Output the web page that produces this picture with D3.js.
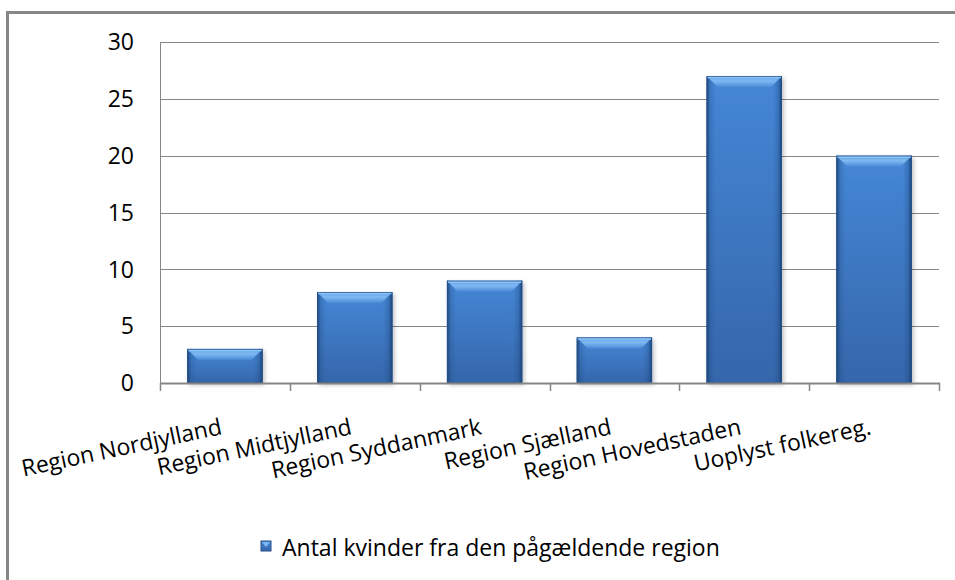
<!DOCTYPE html>
<html>
<head>
<meta charset="utf-8">
<script src="https://cdn.jsdelivr.net/npm/d3@7"></script>
<style>
  html, body { margin: 0; padding: 0; background: #fff; }
  svg { display: block; }
  text { font-family: "Open Sans", "Noto Sans", sans-serif; fill: #000; }
</style>
</head>
<body>
<svg id="chart" width="955" height="580"></svg>
<script>
const categories = ["Region Nordjylland", "Region Midtjylland", "Region Syddanmark", "Region Sjælland", "Region Hovedstaden", "Uoplyst folkereg."];
const values = [3, 8, 9, 4, 27, 20];
const yTicks = [0, 5, 10, 15, 20, 25, 30];
const seriesName = "Antal kvinder fra den pågældende region";

const svg = d3.select("#chart");
const W = 955, H = 580;
const plot = { left: 160, right: 939, top: 42, bottom: 383 };

const defs = svg.append("defs");
const body = defs.append("linearGradient").attr("id", "barBody").attr("x1", 0).attr("y1", 0).attr("x2", 0).attr("y2", 1);
body.append("stop").attr("offset", "0%").attr("stop-color", "#4587d6");
body.append("stop").attr("offset", "100%").attr("stop-color", "#3566ab");
const side = defs.append("linearGradient").attr("id", "barSide").attr("x1", 0).attr("y1", 0).attr("x2", 1).attr("y2", 0);
side.append("stop").attr("offset", "0%").attr("stop-color", "#173d6e").attr("stop-opacity", 0.9);
side.append("stop").attr("offset", "5%").attr("stop-color", "#1f4a80").attr("stop-opacity", 0.25);
side.append("stop").attr("offset", "12%").attr("stop-color", "#1f4a80").attr("stop-opacity", 0);
side.append("stop").attr("offset", "88%").attr("stop-color", "#1f4a80").attr("stop-opacity", 0);
side.append("stop").attr("offset", "95%").attr("stop-color", "#1f4a80").attr("stop-opacity", 0.3);
side.append("stop").attr("offset", "100%").attr("stop-color", "#173d6e").attr("stop-opacity", 0.95);
const bevel = defs.append("linearGradient").attr("id", "barTop").attr("x1", 0).attr("y1", 0).attr("x2", 0).attr("y2", 1);
bevel.append("stop").attr("offset", "0%").attr("stop-color", "#5d9fe6");
bevel.append("stop").attr("offset", "45%").attr("stop-color", "#7fb9f2");
bevel.append("stop").attr("offset", "100%").attr("stop-color", "#4a8ad6");
const shadow = defs.append("filter").attr("id", "shadow").attr("x", "-20%").attr("y", "-20%").attr("width", "150%").attr("height", "150%");
shadow.append("feDropShadow").attr("dx", 2).attr("dy", 2).attr("stdDeviation", 2).attr("flood-color", "#000").attr("flood-opacity", 0.25);

// outer frame (cut at right/bottom)
svg.append("path").attr("d", `M7.5,${H + 5} V12.5 H${W + 5}`)
  .attr("fill", "none").attr("stroke", "#868686").attr("stroke-width", 3);

const x = d3.scaleBand().domain(categories).range([plot.left, plot.right]).paddingInner(0.42).paddingOuter(0.21);
const y = d3.scaleLinear().domain([0, 30]).range([plot.bottom, plot.top]);

// gridlines
svg.append("g").selectAll("line").data(yTicks.filter(t => t > 0)).join("line")
  .attr("x1", plot.left).attr("x2", plot.right)
  .attr("y1", d => Math.round(y(d)) + 0.5).attr("y2", d => Math.round(y(d)) + 0.5)
  .attr("stroke", "#868686").attr("stroke-width", 1);

// y axis
const yAxis = svg.append("g").attr("transform", `translate(${plot.left},0)`)
  .call(d3.axisLeft(y).tickValues(yTicks).tickSize(0).tickPadding(26));
yAxis.select(".domain").attr("stroke", "#868686").attr("d", `M0.5,${plot.top}V${plot.bottom}`);
yAxis.selectAll("text").style("font-size", "23px").attr("fill", "#000").attr("dy", "0.34em");

// bars
const bw = x.bandwidth();
const barG = svg.append("g").selectAll("g").data(values).join("g")
  .attr("transform", (d, i) => `translate(${x(categories[i])},0)`);
barG.append("rect").attr("x", 0).attr("y", d => y(d)).attr("width", bw).attr("height", d => y(0) - y(d))
  .attr("fill", "url(#barBody)").attr("filter", "url(#shadow)");
barG.append("rect").attr("x", 0).attr("y", d => y(d)).attr("width", bw).attr("height", d => y(0) - y(d))
  .attr("fill", "url(#barSide)");
// top bevel
barG.append("path").attr("d", d => {
  const t = y(d), h = 11;
  return `M0,${t} H${bw} L${bw - h},${t + h} H${h} Z`;
}).attr("fill", "url(#barTop)");
barG.append("rect").attr("x", 0.5).attr("y", d => y(d) + 0.5).attr("width", bw - 1).attr("height", d => y(0) - y(d) - 1)
  .attr("fill", "none").attr("stroke", "#244f88").attr("stroke-width", 1);
barG.append("line").attr("x1", 1).attr("x2", bw - 1).attr("y1", d => y(d) + 1.5).attr("y2", d => y(d) + 1.5)
  .attr("stroke", "#8cc3f5").attr("stroke-width", 1.5);

// x axis
const xAxisY = plot.bottom + 0.5;
svg.append("line").attr("x1", plot.left).attr("x2", plot.right + 1).attr("y1", xAxisY).attr("y2", xAxisY)
  .attr("stroke", "#868686").attr("stroke-width", 2);
const boundaries = categories.map(c => x(c) - x.step() * x.paddingInner() / 2 - (categories.indexOf(c) === 0 ? x.step() * (x.paddingOuter() - x.paddingInner() / 2) : 0));
boundaries.push(plot.right);
svg.append("g").selectAll("line").data(boundaries).join("line")
  .attr("x1", d => Math.round(d) + 0.5).attr("x2", d => Math.round(d) + 0.5)
  .attr("y1", plot.bottom).attr("y2", plot.bottom + 8)
  .attr("stroke", "#868686").attr("stroke-width", 1.5);

// x labels
svg.append("g").selectAll("text").data(categories).join("text")
  .attr("transform", d => `translate(${x(d) + bw / 2 - 2},434) rotate(-12)`)
  .attr("text-anchor", "end")
  .style("font-size", "23px")
  .text(d => d);

// legend
svg.append("rect").attr("x", 261).attr("y", 541).attr("width", 10).attr("height", 10)
  .attr("fill", "url(#barBody)").attr("stroke", "#244f88").attr("stroke-width", 1);
svg.append("path").attr("d", "M262,542 H270 L266,547 Z").attr("fill", "#7fb9f2");
svg.append("text").attr("x", 282).attr("y", 556).style("font-size", "23px").text(seriesName);
</script>
</body>
</html>
